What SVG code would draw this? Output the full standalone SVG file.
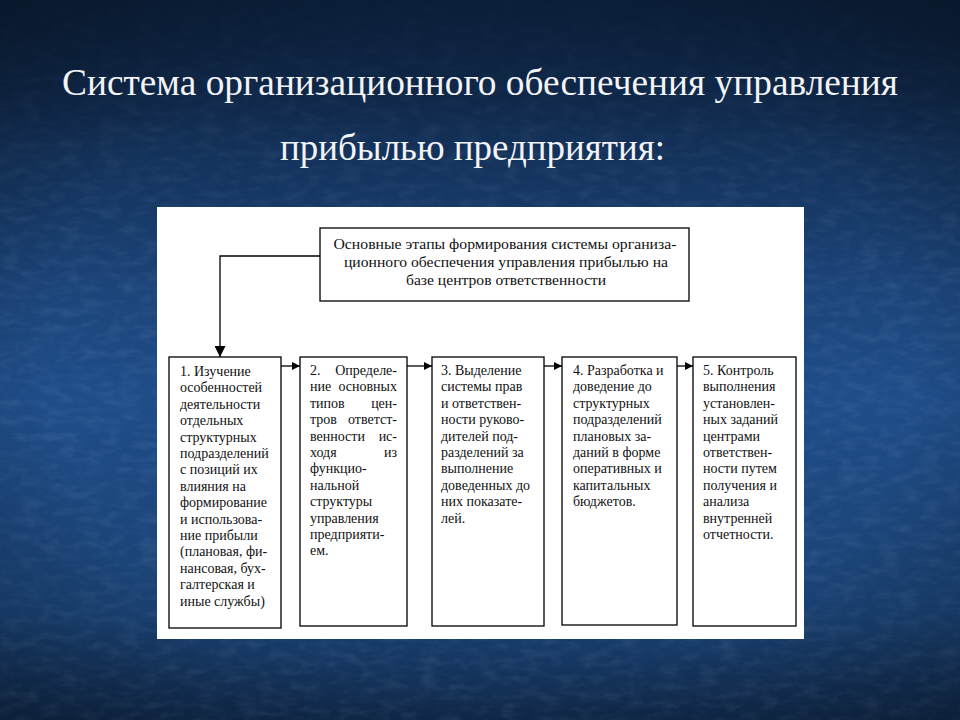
<svg xmlns="http://www.w3.org/2000/svg" width="960" height="720" viewBox="0 0 960 720">
<defs>
<linearGradient id="bg" x1="0" y1="0" x2="0" y2="1">
<stop offset="0" stop-color="#0d2240"/>
<stop offset="0.22" stop-color="#173a68"/>
<stop offset="0.55" stop-color="#1f4d89"/>
<stop offset="0.85" stop-color="#1a4274"/>
<stop offset="1" stop-color="#10294a"/>
</linearGradient>
<linearGradient id="topdark" x1="0" y1="0" x2="0" y2="1">
<stop offset="0" stop-color="#0b1f3a" stop-opacity="0.9"/>
<stop offset="0.2" stop-color="#0b1f3a" stop-opacity="0.3"/>
<stop offset="0.4" stop-color="#0b1f3a" stop-opacity="0"/>
</linearGradient>
<radialGradient id="vig" cx="0.5" cy="0.5" r="0.75">
<stop offset="0.6" stop-color="#000" stop-opacity="0"/>
<stop offset="1" stop-color="#000" stop-opacity="0.3"/>
</radialGradient>
<filter id="tex" x="0" y="0" width="100%" height="100%">
<feTurbulence type="fractalNoise" baseFrequency="0.05 0.12" numOctaves="3" seed="4"/>
<feColorMatrix type="matrix" values="0 0 0 0 0.55  0 0 0 0 0.7  0 0 0 0 0.95  0 0 0 1.2 -0.5"/>
</filter>
<marker id="arr" viewBox="0 0 10 10" refX="10" refY="5" markerWidth="8" markerHeight="8" markerUnits="userSpaceOnUse" orient="auto">
<path d="M0,0 L10,5 L0,10 Z" fill="#000"/>
</marker>
<marker id="arrV" viewBox="0 0 10 10" refX="10" refY="5" markerWidth="11" markerHeight="11" markerUnits="userSpaceOnUse" orient="auto">
<path d="M0,0 L10,5 L0,10 Z" fill="#000"/>
</marker>
</defs>
<style>
.title{font-family:"Liberation Serif","DejaVu Serif",serif;font-size:38px;fill:#f2f4f8;}
.box{fill:#fff;stroke:#000;stroke-width:1.3;}
.t{font-family:"Liberation Serif","DejaVu Serif",serif;font-size:14px;fill:#111;}
.e{text-anchor:end;}
.tc{font-family:"Liberation Serif","DejaVu Serif",serif;font-size:14.5px;fill:#111;text-anchor:middle;}
.conn{fill:none;stroke:#000;stroke-width:1.3;}
</style>
<rect x="0" y="0" width="960" height="720" fill="url(#bg)"/>
<rect x="0" y="0" width="960" height="720" filter="url(#tex)" opacity="0.16"/>
<rect x="0" y="0" width="960" height="720" fill="url(#topdark)"/>
<rect x="0" y="0" width="960" height="720" fill="url(#vig)"/>

<text class="title" x="62" y="95" textLength="836" lengthAdjust="spacingAndGlyphs">Система организационного обеспечения управления</text>
<text class="title" x="280" y="160" textLength="385" lengthAdjust="spacingAndGlyphs">прибылью предприятия:</text>

<rect x="157" y="207" width="647" height="432" fill="#fff"/>

<g id="top">
<rect class="box" x="320" y="228" width="369" height="73"/>
<text class="tc" x="505" y="249" textLength="343" lengthAdjust="spacingAndGlyphs">Основные этапы формирования системы организа-</text>
<text class="tc" x="506" y="267" textLength="324" lengthAdjust="spacingAndGlyphs">ционного обеспечения управления прибылью на</text>
<text class="tc" x="506" y="285" textLength="200" lengthAdjust="spacingAndGlyphs">базе центров ответственности</text>
</g>

<g id="n1">
<rect class="box" x="169" y="357" width="112" height="271"/>
<text class="t">
<tspan x="180" y="376">1. Изучение</tspan>
<tspan x="180" y="392.4">особенностей</tspan>
<tspan x="180" y="408.8">деятельности</tspan>
<tspan x="180" y="425.2">отдельных</tspan>
<tspan x="180" y="441.6">структурных</tspan>
<tspan x="180" y="458">подразделений</tspan>
<tspan x="180" y="474.4">с позиций их</tspan>
<tspan x="180" y="490.8">влияния на</tspan>
<tspan x="180" y="507.2">формирование</tspan>
<tspan x="180" y="523.6">и использова-</tspan>
<tspan x="180" y="540">ние прибыли</tspan>
<tspan x="180" y="556.4">(плановая, фи-</tspan>
<tspan x="180" y="572.8">нансовая, бух-</tspan>
<tspan x="180" y="589.2">галтерская и</tspan>
<tspan x="180" y="605.6">иные  службы)</tspan>
</text>
</g>

<g id="n2">
<rect class="box" x="300" y="357" width="107" height="269"/>
<text class="t" x="310" y="375">2.</text><text class="t e" x="397" y="375">Определе-</text>
<text class="t" x="310" y="391.4">ние</text><text class="t e" x="397" y="391.4">основных</text>
<text class="t" x="310" y="407.8">типов</text><text class="t e" x="397" y="407.8">цен-</text>
<text class="t" x="310" y="424.2">тров</text><text class="t e" x="397" y="424.2">ответст-</text>
<text class="t" x="310" y="440.6">венности</text><text class="t e" x="397" y="440.6">ис-</text>
<text class="t" x="310" y="457">ходя</text><text class="t e" x="397" y="457">из</text>
<text class="t" x="310" y="473.4">функцио-</text>
<text class="t" x="310" y="489.8">нальной</text>
<text class="t" x="310" y="506.2">структуры</text>
<text class="t" x="310" y="522.6">управления</text>
<text class="t" x="310" y="539">предприяти-</text>
<text class="t" x="310" y="555.4">ем.</text>
</g>

<g id="n3">
<rect class="box" x="432" y="357" width="112" height="269"/>
<text class="t">
<tspan x="441" y="375">3.  Выделение</tspan>
<tspan x="441" y="391.4">системы прав</tspan>
<tspan x="441" y="407.8">и ответствен-</tspan>
<tspan x="441" y="424.2">ности руково-</tspan>
<tspan x="441" y="440.6">дителей под-</tspan>
<tspan x="441" y="457">разделений за</tspan>
<tspan x="441" y="473.4">выполнение</tspan>
<tspan x="441" y="489.8">доведенных до</tspan>
<tspan x="441" y="506.2">них показате-</tspan>
<tspan x="441" y="522.6">лей.</tspan>
</text>
</g>

<g id="n4">
<rect class="box" x="562" y="357" width="115" height="268"/>
<text class="t">
<tspan x="573" y="375">4. Разработка и</tspan>
<tspan x="573" y="391.4">доведение до</tspan>
<tspan x="573" y="407.8">структурных</tspan>
<tspan x="573" y="424.2">подразделений</tspan>
<tspan x="573" y="440.6">плановых за-</tspan>
<tspan x="573" y="457">даний в форме</tspan>
<tspan x="573" y="473.4">оперативных и</tspan>
<tspan x="573" y="489.8">капитальных</tspan>
<tspan x="573" y="506.2">бюджетов.</tspan>
</text>
</g>

<g id="n5">
<rect class="box" x="693" y="357" width="103" height="269"/>
<text class="t">
<tspan x="703" y="375">5. Контроль</tspan>
<tspan x="703" y="391.4">выполнения</tspan>
<tspan x="703" y="407.8">установлен-</tspan>
<tspan x="703" y="424.2">ных заданий</tspan>
<tspan x="703" y="440.6">центрами</tspan>
<tspan x="703" y="457">ответствен-</tspan>
<tspan x="703" y="473.4">ности путем</tspan>
<tspan x="703" y="489.8">получения и</tspan>
<tspan x="703" y="506.2">анализа</tspan>
<tspan x="703" y="522.6">внутренней</tspan>
<tspan x="703" y="539">отчетности.</tspan>
</text>
</g>

<g id="connectors">
<path class="conn" d="M320,256 H220 V357" marker-end="url(#arrV)"/>
<path class="conn" d="M281,366 H300" marker-end="url(#arr)"/>
<path class="conn" d="M407,366 H432" marker-end="url(#arr)"/>
<path class="conn" d="M544,366 H562" marker-end="url(#arr)"/>
<path class="conn" d="M677,366 H693" marker-end="url(#arr)"/>
</g>
</svg>
